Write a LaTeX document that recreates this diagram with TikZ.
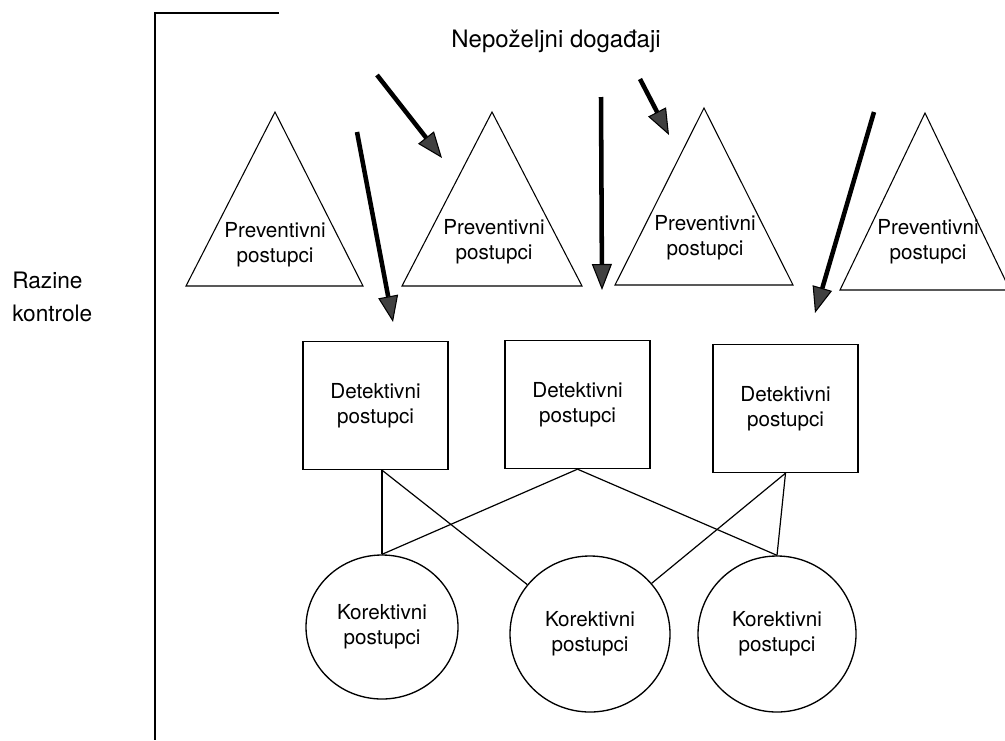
\documentclass[tikz,border=0pt]{standalone}
\usepackage{fontspec}
\setmainfont{TeX Gyre Heros}
\usetikzlibrary{arrows.meta,shapes.geometric}
\begin{document}
\begin{tikzpicture}[x=0.75pt,y=-0.75pt,
		txt/.style={align=center,inner sep=0pt,font=\fontsize{15.5}{18.75}\selectfont},
		tri/.style={line width=0.8pt,line join=miter},
		detbox/.style={draw,line width=1pt,minimum width=108.75pt,minimum height=96pt,txt},
		korbox/.style={ellipse,draw,line width=1pt,txt},
		link/.style={line width=0.9pt},
		hit/.style={line width=3.4pt,-{Triangle[length=19.5pt,width=15pt,line width'=0.8pt,fill=black!75]}}]
		\useasboundingbox (0,0) rectangle (1005,740);
		\draw[line width=1.1pt] (279,13) -- (155,13) -- (155,740);
		\node (title) [anchor=base,font=\fontsize{18}{22}\selectfont] at (556,47) {Nepoželjni događaji};
		\node (razine) [anchor=west,align=left,inner sep=0pt,font=\fontsize{17}{24.75}\selectfont] at (12,297) {Razine\\kontrole};
		\draw[tri] (186,286) -- (275,112) -- (363,286) -- cycle;
		\draw[tri] (402,286) -- (492,112) -- (582,286) -- cycle;
		\draw[tri] (615,285) -- (704,108) -- (793,285) -- cycle;
		\draw[tri] (840,290) -- (925,113) -- (1010,290) -- cycle;
		\node (p1) [txt] at (275,245) {Preventivni\\postupci};
		\node (p2) [txt] at (494,242) {Preventivni\\postupci};
		\node (p3) [txt] at (705,238) {Preventivni\\postupci};
		\node (p4) [txt] at (928,242) {Preventivni\\postupci};
		\node (d1) [detbox] at (375.5,405.5) {Detektivni\\postupci};
		\node (d2) [detbox] at (577.5,404.5) {Detektivni\\postupci};
		\node (d3) [detbox] at (785.5,408.5) {Detektivni\\postupci};
		\node (k1) [korbox,minimum width=114pt,minimum height=108pt] at (382,627) {Korektivni\\postupci};
		\node (k2) [korbox,minimum width=120pt,minimum height=117pt] at (590,634) {Korektivni\\postupci};
		\node (k3) [korbox,minimum width=118.5pt,minimum height=117pt] at (777,634) {Korektivni\\postupci};
		\coordinate (d1b) at (d1.south -| k1.north);
		\draw[link] (d1b) -- (k1.north);
		\draw[link] (d1b) -- (k2);
		\draw[link] (d2.south) -- (k1.north);
		\draw[link] (d2.south) -- (k3.north);
		\draw[link] (d3.south) -- (k3.north);
		\draw[link] (d3.south) -- (k2);
		\coordinate (a1) at (357,132);
		\coordinate (b1) at (393,322);
		\coordinate (a2) at (377,75);
		\coordinate (b2) at (442,158);
		\coordinate (a3) at (601,97);
		\coordinate (b3) at (602,290);
		\coordinate (a4) at (640,79);
		\coordinate (b4) at (669,135);
		\coordinate (a5) at (874,112);
		\coordinate (b5) at (815,313);
		\draw[hit] (a1) -- (b1);
		\draw[hit] (a2) -- (b2);
		\draw[hit] (a3) -- (b3);
		\draw[hit] (a4) -- (b4);
		\draw[hit] (a5) -- (b5);
\end{tikzpicture}
\end{document}
